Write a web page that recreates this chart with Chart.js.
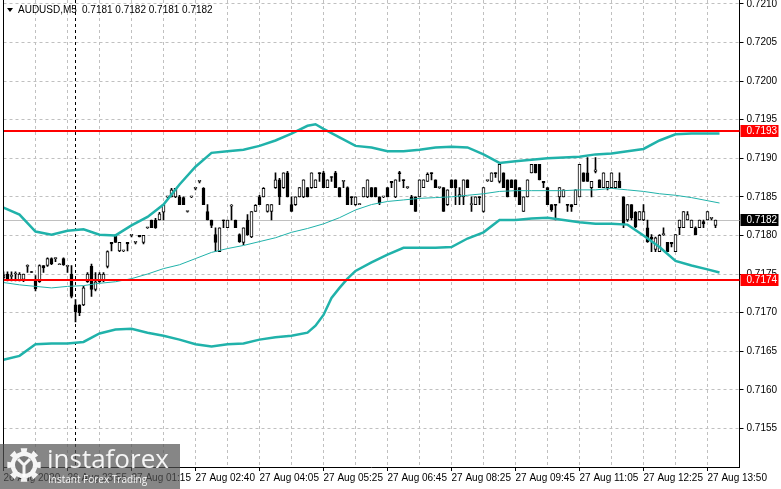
<!DOCTYPE html>
<html>
<head>
<meta charset="utf-8">
<title>AUDUSD M5</title>
<script src="https://cdn.jsdelivr.net/npm/chart.js@4.4.1/dist/chart.umd.min.js"></script>
<style>
  html, body { margin: 0; padding: 0; background: #fff; }
  canvas { display: block; }
</style>
</head>
<body>
<canvas id="chart" width="781" height="489"></canvas>
<script>
// AUDUSD M5 candles, one value per bar (bar 0 = 26 Aug, left edge)
const open = [
  0.71745, 0.71750, 0.71747, 0.71750, 0.71741, 0.71743, 0.71760, 0.71753, 0.71743, 0.71740,
  0.71761, 0.71761, 0.71770, 0.71770, 0.71762, 0.71770, 0.71760, 0.71750, 0.71710, 0.71710,
  0.71710, 0.71740, 0.71760, 0.71730, 0.71740, 0.71741, 0.71760, 0.71791, 0.71800, 0.71780,
  0.71780, 0.71791, 0.71800, 0.71791, 0.71800, 0.71791, 0.71810, 0.71820, 0.71820, 0.71820,
  0.71830, 0.71850, 0.71850, 0.71850, 0.71850, 0.71849, 0.71831, 0.71850, 0.71861, 0.71870,
  0.71861, 0.71831, 0.71820, 0.71801, 0.71779, 0.71820, 0.71810, 0.71838, 0.71820, 0.71801,
  0.71791, 0.71820, 0.71798, 0.71831, 0.71850, 0.71850, 0.71831, 0.71831, 0.71862, 0.71872,
  0.71862, 0.71881, 0.71840, 0.71840, 0.71850, 0.71850, 0.71862, 0.71862, 0.71862, 0.71881,
  0.71881, 0.71862, 0.71876, 0.71881, 0.71862, 0.71870, 0.71862, 0.71850, 0.71840, 0.71840,
  0.71850, 0.71850, 0.71862, 0.71862, 0.71850, 0.71850, 0.71862, 0.71870, 0.71850, 0.71881,
  0.71872, 0.71862, 0.71850, 0.71850, 0.71850, 0.71862, 0.71870, 0.71881, 0.71872, 0.71862,
  0.71862, 0.71840, 0.71872, 0.71872, 0.71850, 0.71850, 0.71872, 0.71840, 0.71840, 0.71850,
  0.71831, 0.71871, 0.71870, 0.71881, 0.71870, 0.71881, 0.71872, 0.71872, 0.71872, 0.71862,
  0.71831, 0.71850, 0.71881, 0.71892, 0.71892, 0.71870, 0.71862, 0.71840, 0.71840, 0.71850,
  0.71850, 0.71840, 0.71840, 0.71840, 0.71850, 0.71881, 0.71881, 0.71862, 0.71883, 0.71872,
  0.71862, 0.71862, 0.71862, 0.71862, 0.71870, 0.71850, 0.71820, 0.71840, 0.71830, 0.71820,
  0.71820, 0.71810, 0.71798, 0.71782, 0.71779, 0.71801, 0.71791, 0.71791, 0.71779, 0.71810,
  0.71810, 0.71820, 0.71810, 0.71810, 0.71810, 0.71818, 0.71820, 0.71822, 0.71813
];
const high = [
  0.71753, 0.71753, 0.71753, 0.71753, 0.71752, 0.71750, 0.71762, 0.71753, 0.71748, 0.71762,
  0.71761, 0.71771, 0.71771, 0.71771, 0.71763, 0.71771, 0.71761, 0.71761, 0.71717, 0.71710,
  0.71734, 0.71752, 0.71763, 0.71752, 0.71752, 0.71752, 0.71780, 0.71791, 0.71801, 0.71791,
  0.71780, 0.71791, 0.71800, 0.71791, 0.71800, 0.71800, 0.71810, 0.71820, 0.71822, 0.71830,
  0.71840, 0.71850, 0.71861, 0.71861, 0.71852, 0.71850, 0.71831, 0.71850, 0.71861, 0.71870,
  0.71862, 0.71840, 0.71820, 0.71810, 0.71810, 0.71820, 0.71820, 0.71840, 0.71820, 0.71802,
  0.71810, 0.71827, 0.71831, 0.71840, 0.71852, 0.71862, 0.71840, 0.71840, 0.71881, 0.71874,
  0.71881, 0.71883, 0.71850, 0.71850, 0.71862, 0.71872, 0.71862, 0.71881, 0.71872, 0.71881,
  0.71883, 0.71872, 0.71876, 0.71883, 0.71862, 0.71871, 0.71863, 0.71850, 0.71850, 0.71841,
  0.71862, 0.71872, 0.71862, 0.71862, 0.71850, 0.71850, 0.71862, 0.71870, 0.71872, 0.71883,
  0.71872, 0.71863, 0.71852, 0.71850, 0.71872, 0.71872, 0.71881, 0.71881, 0.71872, 0.71862,
  0.71862, 0.71859, 0.71872, 0.71872, 0.71862, 0.71872, 0.71872, 0.71850, 0.71850, 0.71850,
  0.71862, 0.71871, 0.71881, 0.71881, 0.71892, 0.71881, 0.71872, 0.71872, 0.71872, 0.71862,
  0.71850, 0.71872, 0.71892, 0.71892, 0.71892, 0.71870, 0.71862, 0.71840, 0.71840, 0.71862,
  0.71859, 0.71840, 0.71840, 0.71859, 0.71892, 0.71881, 0.71901, 0.71870, 0.71901, 0.71872,
  0.71881, 0.71870, 0.71881, 0.71870, 0.71881, 0.71850, 0.71840, 0.71840, 0.71831, 0.71831,
  0.71840, 0.71820, 0.71801, 0.71798, 0.71801, 0.71810, 0.71791, 0.71791, 0.71801, 0.71820,
  0.71831, 0.71831, 0.71820, 0.71811, 0.71820, 0.71820, 0.71831, 0.71822, 0.71820
];
const low = [
  0.71741, 0.71741, 0.71741, 0.71741, 0.71741, 0.71740, 0.71752, 0.71752, 0.71728, 0.71739,
  0.71752, 0.71760, 0.71762, 0.71766, 0.71762, 0.71761, 0.71752, 0.71719, 0.71688, 0.71696,
  0.71709, 0.71739, 0.71721, 0.71728, 0.71739, 0.71740, 0.71758, 0.71780, 0.71791, 0.71779,
  0.71779, 0.71780, 0.71798, 0.71789, 0.71798, 0.71789, 0.71809, 0.71810, 0.71809, 0.71820,
  0.71820, 0.71849, 0.71850, 0.71849, 0.71840, 0.71840, 0.71830, 0.71849, 0.71859, 0.71868,
  0.71840, 0.71820, 0.71810, 0.71779, 0.71779, 0.71810, 0.71810, 0.71820, 0.71810, 0.71791,
  0.71788, 0.71800, 0.71797, 0.71831, 0.71840, 0.71850, 0.71830, 0.71820, 0.71861, 0.71840,
  0.71861, 0.71850, 0.71831, 0.71839, 0.71850, 0.71849, 0.71850, 0.71861, 0.71862, 0.71870,
  0.71862, 0.71862, 0.71870, 0.71862, 0.71850, 0.71862, 0.71840, 0.71840, 0.71839, 0.71840,
  0.71850, 0.71849, 0.71850, 0.71850, 0.71840, 0.71849, 0.71850, 0.71862, 0.71849, 0.71870,
  0.71862, 0.71861, 0.71840, 0.71831, 0.71850, 0.71862, 0.71870, 0.71872, 0.71862, 0.71861,
  0.71831, 0.71839, 0.71862, 0.71840, 0.71840, 0.71840, 0.71862, 0.71831, 0.71840, 0.71840,
  0.71830, 0.71870, 0.71870, 0.71875, 0.71868, 0.71862, 0.71850, 0.71862, 0.71850, 0.71840,
  0.71831, 0.71850, 0.71881, 0.71881, 0.71872, 0.71862, 0.71840, 0.71831, 0.71820, 0.71842,
  0.71850, 0.71831, 0.71831, 0.71840, 0.71850, 0.71870, 0.71870, 0.71850, 0.71881, 0.71862,
  0.71862, 0.71859, 0.71862, 0.71861, 0.71862, 0.71810, 0.71818, 0.71820, 0.71810, 0.71820,
  0.71819, 0.71791, 0.71779, 0.71779, 0.71779, 0.71800, 0.71779, 0.71785, 0.71779, 0.71801,
  0.71810, 0.71820, 0.71810, 0.71801, 0.71810, 0.71810, 0.71820, 0.71820, 0.71810
];
const close = [
  0.71749, 0.71743, 0.71748, 0.71750, 0.71750, 0.71750, 0.71761, 0.71752, 0.71731, 0.71761,
  0.71758, 0.71770, 0.71763, 0.71770, 0.71762, 0.71762, 0.71761, 0.71721, 0.71701, 0.71700,
  0.71732, 0.71750, 0.71730, 0.71740, 0.71750, 0.71750, 0.71779, 0.71789, 0.71791, 0.71791,
  0.71780, 0.71789, 0.71800, 0.71791, 0.71798, 0.71800, 0.71810, 0.71810, 0.71810, 0.71828,
  0.71840, 0.71850, 0.71859, 0.71861, 0.71840, 0.71840, 0.71831, 0.71850, 0.71861, 0.71870,
  0.71840, 0.71820, 0.71813, 0.71791, 0.71810, 0.71819, 0.71820, 0.71839, 0.71810, 0.71792,
  0.71810, 0.71801, 0.71831, 0.71839, 0.71840, 0.71861, 0.71840, 0.71840, 0.71872, 0.71850,
  0.71881, 0.71850, 0.71831, 0.71850, 0.71862, 0.71872, 0.71850, 0.71881, 0.71872, 0.71880,
  0.71862, 0.71872, 0.71875, 0.71862, 0.71850, 0.71871, 0.71840, 0.71849, 0.71850, 0.71840,
  0.71862, 0.71872, 0.71850, 0.71850, 0.71842, 0.71850, 0.71850, 0.71868, 0.71872, 0.71880,
  0.71871, 0.71862, 0.71840, 0.71831, 0.71872, 0.71872, 0.71879, 0.71880, 0.71862, 0.71862,
  0.71831, 0.71859, 0.71862, 0.71862, 0.71853, 0.71872, 0.71862, 0.71841, 0.71850, 0.71849,
  0.71862, 0.71871, 0.71881, 0.71880, 0.71892, 0.71862, 0.71850, 0.71862, 0.71850, 0.71840,
  0.71850, 0.71872, 0.71892, 0.71881, 0.71872, 0.71868, 0.71840, 0.71833, 0.71839, 0.71862,
  0.71859, 0.71839, 0.71837, 0.71859, 0.71892, 0.71870, 0.71870, 0.71870, 0.71885, 0.71862,
  0.71881, 0.71870, 0.71881, 0.71870, 0.71862, 0.71814, 0.71840, 0.71823, 0.71811, 0.71831,
  0.71831, 0.71792, 0.71795, 0.71797, 0.71800, 0.71802, 0.71779, 0.71789, 0.71801, 0.71820,
  0.71831, 0.71827, 0.71820, 0.71801, 0.71820, 0.71815, 0.71831, 0.71822, 0.71820
];

// Bollinger bands at these bar numbers
const upperAt = [0, 4, 8, 12, 16, 20, 24, 28, 32, 36, 40, 44, 48, 52, 56, 60, 64, 68, 72, 76, 78, 80,
  84, 88, 92, 96, 100, 104, 108, 112, 116, 120, 124, 128, 132, 136, 140, 144, 148, 152, 156, 160,
  164, 168, 172, 176, 179];
const upper = [0.71836, 0.71827, 0.71805, 0.71801, 0.71806, 0.71808, 0.71801, 0.71800, 0.71813,
  0.71824, 0.71840, 0.71866, 0.71889, 0.71907, 0.71909, 0.71911, 0.71916, 0.71923, 0.71932, 0.71942,
  0.71944, 0.71938, 0.71927, 0.71916, 0.71914, 0.71909, 0.71909, 0.71911, 0.71914, 0.71915, 0.71914,
  0.71905, 0.71894, 0.71896, 0.71898, 0.71900, 0.71901, 0.71902, 0.71905, 0.71906, 0.71909, 0.71912,
  0.71923, 0.71931, 0.71932, 0.71932, 0.71932];
const midAt = [0, 4, 8, 12, 16, 20, 24, 28, 32, 36, 40, 44, 48, 52, 56, 60, 64, 68, 72, 76, 80, 84,
  88, 92, 96, 100, 104, 108, 112, 116, 120, 124, 128, 132, 136, 140, 144, 148, 152, 156, 160, 164,
  168, 172, 176, 179];
const mid = [0.71739, 0.71736, 0.71734, 0.71732, 0.71734, 0.71735, 0.71738, 0.71740, 0.71744, 0.71750,
  0.71757, 0.71762, 0.71770, 0.71778, 0.71783, 0.71787, 0.71792, 0.71797, 0.71804, 0.71809,
  0.71815, 0.71823, 0.71833, 0.71840, 0.71844, 0.71846, 0.71848, 0.71849, 0.71850, 0.71852,
  0.71854, 0.71857, 0.71858, 0.71858, 0.71858, 0.71858, 0.71859, 0.71859, 0.71861, 0.71859,
  0.71857, 0.71854, 0.71852, 0.71849, 0.71845, 0.71842];
const lowerAt = [0, 4, 8, 12, 16, 20, 24, 28, 32, 36, 40, 44, 48, 52, 56, 60, 64, 68, 72, 76, 78, 80,
  82, 84, 86, 88, 92, 96, 100, 104, 108, 112, 116, 120, 124, 128, 132, 136, 140, 144, 148, 152, 156,
  160, 164, 168, 172, 176, 179];
const lower = [0.71639, 0.71644, 0.71659, 0.71660, 0.71660, 0.71662, 0.71673, 0.71678, 0.71679,
  0.71674, 0.71670, 0.71665, 0.71659, 0.71656, 0.71659, 0.71660, 0.71665, 0.71668, 0.71670, 0.71674,
  0.71683, 0.71697, 0.71719, 0.71732, 0.71744, 0.71754, 0.71765, 0.71775, 0.71784, 0.71784, 0.71784,
  0.71785, 0.71796, 0.71804, 0.71820, 0.71820, 0.71822, 0.71823, 0.71820, 0.71817, 0.71815, 0.71815,
  0.71814, 0.71800, 0.71785, 0.71767, 0.71761, 0.71756, 0.71752];

// horizontal levels (red) and their tags
const levels = [0.71935, 0.71742];
const levelTags = ['0.7193', '0.7174'];

// price scale ticks
const priceTicks = [0.7155, 0.7160, 0.7165, 0.7170, 0.7175, 0.7180, 0.7185, 0.7190, 0.7195,
  0.7200, 0.7205, 0.7210];

// time axis: one label every 16 bars
const timeLabels = ['26 Aug 2020', '26 Aug 23:55', '27 Aug 01:15', '27 Aug 02:40', '27 Aug 04:05',
  '27 Aug 05:25', '27 Aug 06:45', '27 Aug 08:25', '27 Aug 09:45', '27 Aug 11:05', '27 Aug 12:25',
  '27 Aug 13:50'];
const labelEvery = 16;
const gridEvery = 8;
const daySplitBar = 18;
const slotCount = 185;   // bars + empty shift on the right

const symbol = 'AUDUSD,M5';
const FONT = 'Liberation Sans, Arial, sans-serif';
const GRID = '#c0c0c0';
const BAND = '#20b2aa';

const slots = Array.from({ length: slotCount }, (_, i) => i);

function sparse(at, vals) {
  const out = new Array(slotCount).fill(null);
  at.forEach((i, k) => { out[i] = vals[k]; });
  return out;
}

const wicks = open.map((_, i) => [low[i], high[i]]);
const bodies = open.map((o, i) => [o, close[i]]);
const bodyFill = open.map((o, i) => close[i] >= o ? '#ffffff' : '#000000');

const last = open.length - 1;
const bid = close[last];

// levels, separator, tags, header and watermark
const overlay = {
  id: 'overlay',
  beforeDatasetsDraw(chart) {
    const { ctx, chartArea: a, scales: { x, y } } = chart;
    ctx.save();
    const yb = Math.round(y.getPixelForValue(bid)) + 0.5;
    ctx.strokeStyle = GRID;
    ctx.lineWidth = 1;
    ctx.beginPath(); ctx.moveTo(a.left, yb); ctx.lineTo(a.right, yb); ctx.stroke();

    const xs = x.getPixelForValue(daySplitBar);
    ctx.strokeStyle = '#000';
    ctx.setLineDash([3, 3]);
    ctx.beginPath(); ctx.moveTo(xs, a.top); ctx.lineTo(xs, a.bottom); ctx.stroke();
    ctx.restore();
  },
  afterDatasetsDraw(chart) {
    const { ctx, chartArea: a, scales: { y } } = chart;
    ctx.save();
    ctx.strokeStyle = '#ff0000';
    ctx.lineWidth = 2;
    levels.forEach(v => {
      const yp = Math.round(y.getPixelForValue(v));
      ctx.beginPath(); ctx.moveTo(a.left, yp); ctx.lineTo(a.right, yp); ctx.stroke();
    });
    ctx.restore();
  },
  afterDraw(chart) {
    const { ctx, chartArea: a, scales: { y } } = chart;
    ctx.save();

    // left frame
    ctx.strokeStyle = '#000';
    ctx.lineWidth = 1;
    ctx.beginPath(); ctx.moveTo(a.left, a.top); ctx.lineTo(a.left, a.bottom); ctx.stroke();

    // price tags on the right scale
    const tags = [
      { v: levels[0], t: levelTags[0], bg: '#ff0000' },
      { v: bid, t: bid.toFixed(4), bg: '#000000' },
      { v: levels[1], t: levelTags[1], bg: '#ff0000' }
    ];
    ctx.font = '10px ' + FONT;
    ctx.textBaseline = 'middle';
    ctx.textAlign = 'left';
    tags.forEach(g => {
      const yp = Math.round(y.getPixelForValue(g.v));
      ctx.fillStyle = g.bg;
      ctx.fillRect(a.right + 1, yp - 6, 38, 12);
      ctx.fillStyle = '#fff';
      ctx.fillText(g.t, a.right + 7, yp + 0.5);
    });

    // header
    ctx.fillStyle = '#000';
    ctx.beginPath(); ctx.moveTo(7, 8); ctx.lineTo(13, 8); ctx.lineTo(10, 12); ctx.closePath(); ctx.fill();
    ctx.fillText(symbol, 18, 10.5);
    const ohlc = [open[last], high[last], low[last], close[last]].map(v => v.toFixed(4)).join(' ');
    ctx.fillText(ohlc, 82, 10.5);

    // watermark
    ctx.fillStyle = 'rgba(82,82,82,0.7)';
    ctx.fillRect(0, 444, 180, 45);
    ctx.fillStyle = 'rgba(255,255,255,0.92)';
    const cx = 24, cy = 465;
    ctx.beginPath();
    for (let k = 0; k < 16; k++) {
      const ang = k * Math.PI / 8 - Math.PI / 16;
      const r = (k % 2 === 0) ? 17 : 13.5;
      ctx.lineTo(cx + r * Math.cos(ang), cy + r * Math.sin(ang));
      ctx.lineTo(cx + r * Math.cos(ang + Math.PI / 8), cy + r * Math.sin(ang + Math.PI / 8));
    }
    ctx.closePath();
    ctx.fill();
    ctx.fillStyle = 'rgb(120,120,120)';
    ctx.beginPath(); ctx.arc(cx, cy, 9, 0, Math.PI * 2); ctx.fill();
    ctx.strokeStyle = 'rgba(255,255,255,0.92)';
    ctx.lineWidth = 3;
    ctx.beginPath();
    ctx.moveTo(cx - 6, cy - 6); ctx.lineTo(cx, cy); ctx.lineTo(cx + 6, cy - 6);
    ctx.moveTo(cx, cy); ctx.lineTo(cx, cy + 12);
    ctx.stroke();
    ctx.fillStyle = 'rgba(255,255,255,0.92)';
    ctx.textBaseline = 'alphabetic';
    ctx.font = '26px "Open Sans", sans-serif';
    ctx.fillText('instaforex', 47, 468);
    ctx.font = '10px "Open Sans", sans-serif';
    ctx.fillText('Instant Forex Trading', 48, 483);
    ctx.restore();
  }
};

const ctx = document.getElementById('chart').getContext('2d');

new Chart(ctx, {
  type: 'bar',
  data: {
    labels: slots,
    datasets: [
      { type: 'line', data: sparse(upperAt, upper), borderColor: BAND, borderWidth: 2.5,
        pointRadius: 0, spanGaps: true, tension: 0, order: 1 },
      { type: 'line', data: sparse(midAt, mid), borderColor: BAND, borderWidth: 1,
        pointRadius: 0, spanGaps: true, tension: 0, order: 1 },
      { type: 'line', data: sparse(lowerAt, lower), borderColor: BAND, borderWidth: 2.5,
        pointRadius: 0, spanGaps: true, tension: 0, order: 1 },
      { data: bodies, backgroundColor: bodyFill, borderColor: '#000', borderWidth: 1,
        borderSkipped: false, barThickness: 3, minBarLength: 1, grouped: false, order: 2 },
      { data: wicks, backgroundColor: '#000', barThickness: 1, minBarLength: 1,
        grouped: false, order: 3 }
    ]
  },
  options: {
    responsive: false,
    animation: false,
    devicePixelRatio: 1,
    layout: { padding: { left: 3.5, top: 0, right: 0, bottom: 0 } },
    plugins: { legend: { display: false }, tooltip: { enabled: false } },
    scales: {
      x: {
        type: 'category',
        offset: false,
        grid: {
          offset: false,
          color: c => (c.index % gridEvery === 0 && c.index > 0) ? GRID : 'rgba(0,0,0,0)',
          tickLength: 4,
          tickColor: c => (c.index % labelEvery === 0) ? '#000' : 'rgba(0,0,0,0)',
          tickBorderDash: []
        },
        border: { color: '#000', dash: [3, 3] },
        ticks: {
          autoSkip: false, maxRotation: 0, minRotation: 0, align: 'start', padding: 1,
          color: '#000', font: { family: FONT, size: 10 },
          callback: (v, i) => (i % labelEvery === 0 && timeLabels[i / labelEvery]) ? timeLabels[i / labelEvery] : ''
        },
        afterFit: s => { s.height = 22; s.paddingLeft = 0; s.paddingRight = 0; }
      },
      y: {
        position: 'right',
        min: 0.7150,
        max: 0.72105,
        grid: { color: GRID, tickLength: 4, tickColor: '#000', tickBorderDash: [] },
        border: { color: '#000', dash: [3, 3] },
        ticks: {
          padding: 3, color: '#000', font: { family: FONT, size: 10 },
          callback: v => v.toFixed(4)
        },
        afterBuildTicks: s => { s.ticks = priceTicks.map(v => ({ value: v })); },
        afterFit: s => { s.width = 41.5; s.paddingTop = 0; s.paddingBottom = 0; }
      }
    }
  },
  plugins: [overlay]
});
</script>
</body>
</html>
